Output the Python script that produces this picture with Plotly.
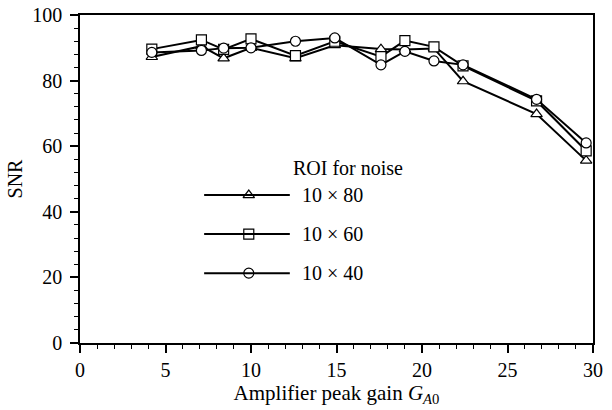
import plotly.graph_objects as go

gain = [4.2, 7.1, 8.4, 10.0, 12.6, 14.9, 17.6, 19.0, 20.7, 22.4, 26.7, 29.6]
snr_10x80 = [87.2, 90.5, 86.8, 90.0, 86.8, 90.8, 89.6, 89.5, 89.8, 79.8, 69.8, 55.6]
snr_10x60 = [89.6, 92.4, 89.5, 92.7, 87.6, 92.0, 87.3, 92.2, 90.3, 84.5, 73.8, 58.6]
snr_10x40 = [88.6, 89.2, 89.9, 90.0, 92.0, 93.0, 84.8, 88.9, 86.0, 84.8, 74.3, 61.0]

series_names = ["10 × 80", "10 × 60", "10 × 40"]
series_values = [snr_10x80, snr_10x60, snr_10x40]
symbols = ["triangle-up", "square", "circle"]
legend_title = "ROI for noise"

x_ticks = [0, 5, 10, 15, 20, 25, 30]
y_ticks = [0, 20, 40, 60, 80, 100]

FONT = "Liberation Serif"

fig = go.Figure()
for name, vals, sym in zip(series_names, series_values, symbols):
    fig.add_trace(go.Scatter(
        x=gain, y=vals, mode="lines+markers", name=name, showlegend=False,
        line=dict(color="black", width=2),
        marker=dict(symbol=sym, size=10, color="white",
                    line=dict(color="black", width=1.2)),
    ))

# custom legend (layout positions)
leg_x0, leg_x1, leg_xm, leg_tx = 0.242, 0.409, 0.329, 0.428
leg_rows = [0.451, 0.332, 0.213]
shapes = []
annotations = []
for name, sym, ry in zip(series_names, symbols, leg_rows):
    shapes.append(dict(type="line", xref="paper", yref="paper",
                       x0=leg_x0, x1=leg_x1, y0=ry, y1=ry,
                       line=dict(color="black", width=2)))
    fig.add_trace(go.Scatter(
        x=[leg_xm], y=[ry], xaxis="x2", yaxis="y2", mode="markers",
        showlegend=False, hoverinfo="skip",
        marker=dict(symbol=sym, size=10, color="white",
                    line=dict(color="black", width=1.2)),
    ))
    annotations.append(dict(xref="paper", yref="paper", x=leg_tx, y=ry,
                            xanchor="left", yanchor="middle", text=name,
                            showarrow=False, font=dict(family=FONT, size=20, color="black")))
annotations.append(dict(xref="paper", yref="paper", x=0.522, y=0.534,
                        xanchor="center", yanchor="middle", text=legend_title,
                        showarrow=False, font=dict(family=FONT, size=20, color="black")))

axis_common = dict(showline=True, linecolor="black", linewidth=1.5, mirror=True,
                   showgrid=False, zeroline=False, ticks="outside", tickcolor="black",
                   ticklen=8, tickwidth=1.5, automargin=False,
                   tickfont=dict(family=FONT, size=20, color="black"))

fig.update_layout(
    width=612, height=410,
    margin=dict(l=80, r=19, t=15, b=67),
    paper_bgcolor="white", plot_bgcolor="white",
    font=dict(family=FONT, size=20, color="black"),
    showlegend=False,
    shapes=shapes, annotations=annotations,
    xaxis=dict(range=[0, 30], tickvals=x_ticks,
               minor=dict(dtick=1, ticks="outside", ticklen=4, tickcolor="black", tickwidth=1.2),
               title=dict(text="Amplifier peak gain <i>G</i><sub><i>A</i>0</sub>",
                          font=dict(family=FONT, size=21), standoff=4),
               **axis_common),
    yaxis=dict(range=[0, 100], tickvals=y_ticks, ticklabelstandoff=4,
               minor=dict(dtick=4, ticks="outside", ticklen=4, tickcolor="black", tickwidth=1.2),
               title=dict(text="SNR", font=dict(family=FONT, size=20), standoff=4),
               **axis_common),
    xaxis2=dict(range=[0, 1], overlaying="x", visible=False, fixedrange=True),
    yaxis2=dict(range=[0, 1], overlaying="y", visible=False, fixedrange=True),
)

fig.write_html("out.html", config={"displayModeBar": False},
               post_script="document.body.style.margin='0';document.body.style.overflow='hidden';")
